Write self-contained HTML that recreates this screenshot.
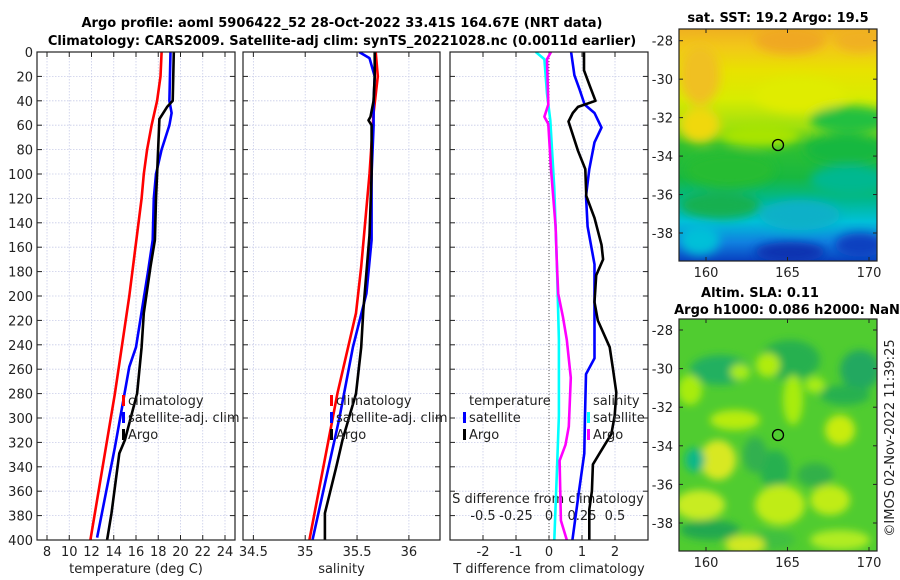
<!DOCTYPE html>
<html><head><meta charset="utf-8"><style>
body{margin:0;background:#fff;}
svg{display:block;font-family:"DejaVu Sans","Liberation Sans",sans-serif;}
</style></head><body>
<svg id="fig" width="900" height="580" viewBox="0 0 900 580" xmlns="http://www.w3.org/2000/svg">
<defs>
<filter id="blur1" x="-20%" y="-20%" width="140%" height="140%"><feGaussianBlur stdDeviation="5"/></filter>
<filter id="blur2" x="-20%" y="-20%" width="140%" height="140%"><feGaussianBlur stdDeviation="4"/></filter>
<clipPath id="clipm1"><rect x="679" y="29" width="198" height="232"/></clipPath>
<clipPath id="clipm2"><rect x="679" y="319" width="198" height="232"/></clipPath>
<clipPath id="clipp1"><rect x="37" y="52" width="198" height="488"/></clipPath>
<clipPath id="clipp2"><rect x="243" y="52" width="197" height="488"/></clipPath>
<clipPath id="clipp3"><rect x="450" y="52" width="198" height="488"/></clipPath>
<linearGradient id="sstgrad" x1="0" y1="0" x2="0" y2="1">
<stop offset="0" stop-color="#f0b020"/><stop offset="0.08" stop-color="#f2c818"/><stop offset="0.18" stop-color="#e8e200"/>
<stop offset="0.3" stop-color="#d8ec00"/><stop offset="0.42" stop-color="#a0e010"/><stop offset="0.5" stop-color="#30c030"/>
<stop offset="0.64" stop-color="#18b840"/><stop offset="0.74" stop-color="#00b890"/><stop offset="0.83" stop-color="#00c0d8"/><stop offset="0.92" stop-color="#1080e0"/><stop offset="1" stop-color="#0840c0"/>
</linearGradient>
</defs>
<g font-weight="bold" font-size="13" text-anchor="middle">
<text x="342" y="27">Argo profile: aoml 5906422_52 28-Oct-2022 33.41S 164.67E (NRT data)</text>
<text x="342" y="45">Climatology: CARS2009. Satellite-adj clim: synTS_20221028.nc (0.0011d earlier)</text>
</g>
<g id="panels"></g>
<g id="maps"></g>
<text x="0" y="0" font-size="13" fill="#222" text-anchor="middle" transform="translate(894,438) rotate(-90)">©IMOS 02-Nov-2022 11:39:25</text>
</svg>
<script>
// ---- data (depth in m) ----
const tempClimDepth = [0, 20, 40, 60, 80, 100, 120, 200, 280, 400];
const tempClimValue = [18.3, 18.2, 17.9, 17.4, 17.0, 16.7, 16.5, 15.4, 14.1, 11.9];
const tempSatDepth = [0, 40, 50, 60, 80, 100, 120, 154, 179, 242, 258, 324, 398];
const tempSatValue = [19.1, 19.0, 19.2, 19.0, 18.3, 17.8, 17.6, 17.5, 17.1, 16.0, 15.4, 14.1, 12.5];
const tempArgoDepth = [0, 40, 45, 55, 100, 120, 154, 176, 214, 242, 280, 318, 329, 378, 400];
const tempArgoValue = [19.4, 19.3, 18.8, 18.1, 17.9, 17.8, 17.7, 17.3, 16.7, 16.5, 16.1, 15.0, 14.5, 13.8, 13.4];

const salClimDepth = [0, 20, 50, 100, 176, 214, 280, 400];
const salClimValue = [35.68, 35.70, 35.66, 35.62, 35.54, 35.49, 35.31, 35.04];
const salSatDepth = [0, 5, 20, 40, 60, 100, 154, 198, 242, 300, 400];
const salSatValue = [35.52, 35.62, 35.67, 35.66, 35.66, 35.64, 35.64, 35.59, 35.46, 35.33, 35.07];
const salArgoDepth = [0, 20, 40, 53, 56, 60, 100, 150, 212, 242, 280, 318, 340, 378, 400];
const salArgoValue = [35.67, 35.67, 35.66, 35.63, 35.61, 35.64, 35.64, 35.62, 35.56, 35.54, 35.49, 35.36, 35.30, 35.19, 35.19];

const dTArgoDepth = [0, 15, 28, 40, 45, 50, 57, 81, 96, 118, 136, 158, 170, 183, 205, 220, 242, 260, 279, 298, 313, 329, 338, 360, 375, 400];
const dTArgoValue = [1.06, 1.06, 1.24, 1.41, 0.88, 0.72, 0.59, 0.88, 1.1, 1.13, 1.38, 1.59, 1.64, 1.43, 1.38, 1.48, 1.84, 1.94, 2.04, 1.99, 1.89, 1.53, 1.33, 1.30, 1.22, 1.22];
const dTSatDepth = [0, 19, 31, 43, 50, 62, 74, 96, 118, 143, 174, 205, 251, 264, 298, 329, 360, 400];
const dTSatValue = [0.67, 0.77, 0.93, 1.08, 1.38, 1.59, 1.38, 1.22, 1.12, 1.17, 1.38, 1.38, 1.38, 1.12, 1.09, 1.07, 0.91, 0.71];
const dSSatDepth = [0, 6, 34, 56, 112, 174, 236, 298, 344, 400];
const dSSatValue = [-0.10, -0.035, -0.015, 0.01, 0.04, 0.06, 0.075, 0.075, 0.06, 0.04];
const dSArgoDepth = [0, 6, 43, 53, 59, 96, 143, 174, 198, 217, 236, 267, 307, 322, 335, 384, 400];
const dSArgoValue = [0.015, -0.015, -0.005, -0.035, -0.005, 0.015, 0.05, 0.06, 0.07, 0.105, 0.135, 0.165, 0.15, 0.125, 0.08, 0.09, 0.135];

const depthTicks = [0,20,40,60,80,100,120,140,160,180,200,220,240,260,280,300,320,340,360,380,400];
const tempTicks = [8,10,12,14,16,18,20,22,24];
const salTicks = [34.5,35,35.5,36];
const dTTicks = [-2,-1,0,1,2];
const dSTicks = [-0.5,-0.25,0,0.25,0.5];
const dSTickLabels = ["-0.5","-0.25","0","0.25","0.5"];

const NS = "http://www.w3.org/2000/svg";
function mk(tag, attrs, parent){ const e=document.createElementNS(NS,tag); for(const k in attrs) e.setAttribute(k,attrs[k]); if(parent) parent.appendChild(e); return e; }
const Y0 = 52, Y1 = 540;
function yDepth(d){ return Y0 + d/400*(Y1-Y0); }
function linScale(d0,d1,r0,r1){ return v => r0 + (v-d0)/(d1-d0)*(r1-r0); }

const panelsG = document.getElementById('panels');
const panels = [
 {name:'temperature-panel', x0:37, x1:235, sx:linScale(7.1,24.9,37,235), ticks:tempTicks, labels:tempTicks.map(String), xlabel:'temperature (deg C)', clip:'clipp1', yl:true},
 {name:'salinity-panel', x0:243, x1:440, sx:linScale(34.4,36.3,243,440), ticks:salTicks, labels:salTicks.map(String), xlabel:'salinity', clip:'clipp2'},
 {name:'difference-panel', x0:450, x1:648, sx:linScale(-3,3,450,648), ticks:dTTicks, labels:dTTicks.map(String), xlabel:'T difference from climatology', clip:'clipp3'}
];
const P = {};
panels.forEach(p=>{
  const g = mk('g',{},panelsG);
  
  
  P[p.name]=g;
  depthTicks.forEach(d=>{
    const y=yDepth(d);
    const l=mk('line',{x1:p.x0,x2:p.x1,y1:y,y2:y,stroke:'#c8cce8','stroke-width':0.8,'stroke-dasharray':'1.5,1.5'},g);
    
    
    mk('line',{x1:p.x0,x2:p.x0+5,y1:y,y2:y,stroke:'#222'},g);
    mk('line',{x1:p.x1-5,x2:p.x1,y1:y,y2:y,stroke:'#222'},g);
    if(p.yl){ const t=mk('text',{x:p.x0-4,y:y+5,'font-size':13,'text-anchor':'end',fill:'#222'},g); t.textContent=d;
        }
  });
  p.ticks.forEach((v,i)=>{
    const x=p.sx(v);
    mk('line',{x1:x,x2:x,y1:Y0,y2:Y1,stroke:'#c8cce8','stroke-width':0.8,'stroke-dasharray':'1.5,1.5'},g);
    mk('line',{x1:x,x2:x,y1:Y1,y2:Y1-5,stroke:'#222'},g);
    mk('line',{x1:x,x2:x,y1:Y0,y2:Y0+5,stroke:'#222'},g);
    const t=mk('text',{x:x,y:556,'font-size':13,'text-anchor':'middle',fill:'#222'},g); t.textContent=p.labels[i];
     
  });
  const xl=mk('text',{x:(p.x0+p.x1)/2,y:573,'font-size':13,'text-anchor':'middle',fill:'#222'},g); xl.textContent=p.xlabel;
   
});
const gd = P['difference-panel'];
const sxS = linScale(-0.75,0.75,450,648);
const sxT = panels[2].sx;
mk('line',{x1:sxT(0),x2:sxT(0),y1:Y0,y2:Y1,stroke:'#555','stroke-width':1,'stroke-dasharray':'1,2'},gd);
dSTicks.forEach((v,i)=>{
  const t=mk('text',{x:sxS(v),y:520,'font-size':13,'text-anchor':'middle',fill:'#222'},gd); t.textContent=dSTickLabels[i];
   
});
const st=mk('text',{x:548,y:503,'font-size':13,'text-anchor':'middle',fill:'#222'},gd); st.textContent='S difference from climatology';
 

function drawLine(g, depths, vals, sx, color, name, clip){
  const pts = depths.map((d,i)=> sx(vals[i]).toFixed(1)+','+yDepth(d).toFixed(1)).join(' ');
  const pl = mk('polyline',{points:pts,fill:'none',stroke:color,'stroke-width':2.6,'stroke-linejoin':'round','clip-path':'url(#'+clip+')'},g);
  
  
}
const g1=P['temperature-panel'], g2=P['salinity-panel'];
drawLine(g1,tempClimDepth,tempClimValue,panels[0].sx,'#ff0000','temperature-climatology-line','clipp1');
drawLine(g1,tempSatDepth,tempSatValue,panels[0].sx,'#0000ff','temperature-satellite-line','clipp1');
drawLine(g1,tempArgoDepth,tempArgoValue,panels[0].sx,'#000000','temperature-argo-line','clipp1');
drawLine(g2,salClimDepth,salClimValue,panels[1].sx,'#ff0000','salinity-climatology-line','clipp2');
drawLine(g2,salSatDepth,salSatValue,panels[1].sx,'#0000ff','salinity-satellite-line','clipp2');
drawLine(g2,salArgoDepth,salArgoValue,panels[1].sx,'#000000','salinity-argo-line','clipp2');
drawLine(gd,dSSatDepth,dSSatValue,sxS,'#00ffff','salinity-diff-satellite-line','clipp3');
drawLine(gd,dSArgoDepth,dSArgoValue,sxS,'#ff00ff','salinity-diff-argo-line','clipp3');
drawLine(gd,dTSatDepth,dTSatValue,sxT,'#0000ff','temperature-diff-satellite-line','clipp3');
drawLine(gd,dTArgoDepth,dTArgoValue,sxT,'#000000','temperature-diff-argo-line','clipp3');

function legend(g, x, items, y0){
  items.forEach((it,i)=>{
    const y=y0+i*17;
    if(it.c) mk('rect',{x:x,y:y-10,width:3,height:11,fill:it.c},g);
    const t=mk('text',{x:x+6,y:y,'font-size':13,fill:'#222'},g); t.textContent=it.t;
     
  });
}
const leg=[{c:'#ff0000',t:'climatology'},{c:'#0000ff',t:'satellite-adj. clim'},{c:'#000000',t:'Argo'}];
legend(g1,122,leg,405);
legend(g2,330,leg,405);
legend(gd,463,[{c:null,t:'temperature'},{c:'#0000ff',t:'satellite'},{c:'#000000',t:'Argo'}],405);
legend(gd,587,[{c:null,t:'salinity'},{c:'#00ffff',t:'satellite'},{c:'#ff00ff',t:'Argo'}],405);
panels.forEach(p=>{
  const r=mk('rect',{x:p.x0,y:Y0,width:p.x1-p.x0,height:Y1-Y0,fill:'none',stroke:'#222','stroke-width':1.2},P[p.name]);
   
});

// ---- maps ----
const lonTicks=[160,165,170];
const latTicks=[-28,-30,-32,-34,-36,-38];
const mapsG=document.getElementById('maps');
function mapAxes(g, top, bottom, lat28y, lat38y){
  const sx=linScale(160,170,706,869);
  const sy=linScale(-28,-38,lat28y,lat38y);
  mk('rect',{x:679,y:top,width:198,height:bottom-top,fill:'none',stroke:'#222','stroke-width':1.2},g);
  latTicks.forEach(v=>{const y=sy(v); mk('line',{x1:679,x2:683,y1:y,y2:y,stroke:'#222'},g); mk('line',{x1:873,x2:877,y1:y,y2:y,stroke:'#222'},g);
    const t=mk('text',{x:673,y:y+5,'font-size':13,'text-anchor':'end',fill:'#222'},g); t.textContent=v;
     });
  lonTicks.forEach(v=>{const x=sx(v); mk('line',{x1:x,x2:x,y1:bottom,y2:bottom-4,stroke:'#222'},g); mk('line',{x1:x,x2:x,y1:top,y2:top+4,stroke:'#222'},g);
    const t=mk('text',{x:x,y:bottom+16,'font-size':13,'text-anchor':'middle',fill:'#222'},g); t.textContent=v;
     });
  return {sx,sy};
}
const m1=mk('g',{},mapsG);


const m1i=mk('g',{'clip-path':'url(#clipm1)'},m1);
mk('rect',{x:679,y:29,width:198,height:232,fill:'url(#sstgrad)'},m1i);
const b1=mk('g',{filter:'url(#blur1)'},m1i);
[[790,40,35,14,'#f0a820'],[860,40,25,12,'#f0b020'],[700,75,20,30,'#f0c020'],[700,125,20,18,'#f0d810'],[800,95,45,18,'#e0ec00'],[760,135,40,12,'#a8e400'],
 [850,120,40,14,'#20c040'],[845,150,40,15,'#18b840'],[850,180,40,15,'#00b890'],[730,170,45,18,'#28bc30'],[720,205,40,14,'#18b050'],[800,215,40,15,'#10b0c8'],[790,252,35,10,'#0a30b0'],[860,245,25,12,'#0840c0'],[700,240,20,15,'#00c0d8']]
 .forEach(b=>mk('ellipse',{cx:b[0],cy:b[1],rx:b[2],ry:b[3],fill:b[4]},b1));
mk('text',{x:778,y:22,'font-size':13,'font-weight':'bold','text-anchor':'middle'},m1).textContent='sat. SST: 19.2 Argo: 19.5';
mapAxes(m1,29,261,40.7,233);
mk('circle',{cx:778,cy:145,r:5.5,fill:'none',stroke:'#000','stroke-width':1.3},m1);
const m2=mk('g',{},mapsG);


const m2i=mk('g',{'clip-path':'url(#clipm2)'},m2);
mk('rect',{x:679,y:319,width:198,height:232,fill:'#50cc30'},m2i);
const b2=mk('g',{filter:'url(#blur2)'},m2i);
[[720,370,30,15,'#20b060'],[790,360,30,20,'#28b050'],[860,370,20,20,'#20a860'],[845,395,25,10,'#28b050'],
 [690,390,12,15,'#a8ec10'],[740,372,10,8,'#a8ec18'],[768,365,12,12,'#b0ec10'],[815,385,10,8,'#a8ec18'],
 [735,420,25,10,'#b8ec10'],[793,400,10,25,'#a8ec10'],[840,430,15,15,'#c8ec10'],
 [718,460,18,20,'#d8e820'],[700,505,25,15,'#c8ec20'],[775,470,15,20,'#28b050'],[815,475,18,12,'#30b048'],[780,505,25,20,'#c0ec18'],[830,500,20,15,'#c0ec18'],[695,460,10,12,'#10b888'],
 [710,530,30,10,'#20a850'],[770,540,25,10,'#40c040'],[745,545,20,10,'#d0e820'],[840,540,30,10,'#b0ec20'],[755,455,12,18,'#30b050']]
 .forEach(b=>mk('ellipse',{cx:b[0],cy:b[1],rx:b[2],ry:b[3],fill:b[4]},b2));
mk('text',{x:760,y:297,'font-size':13,'font-weight':'bold','text-anchor':'middle'},m2).textContent='Altim. SLA: 0.11';
mk('text',{x:787,y:314,'font-size':13,'font-weight':'bold','text-anchor':'middle'},m2).textContent='Argo h1000: 0.086 h2000: NaN';
mapAxes(m2,319,551,330,523);
mk('circle',{cx:778,cy:435,r:5.5,fill:'none',stroke:'#000','stroke-width':1.3},m2);
</script>
</body></html>
